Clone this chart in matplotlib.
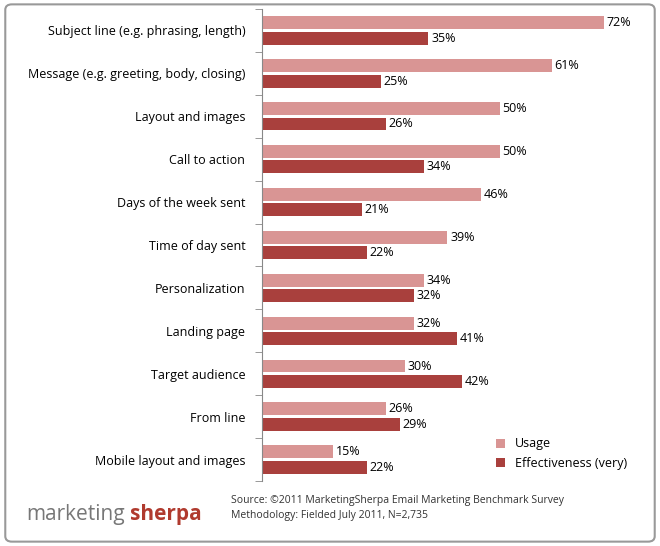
import matplotlib.pyplot as plt
from matplotlib.patches import FancyBboxPatch

categories = ["Subject line (e.g. phrasing, length)",
              "Message (e.g. greeting, body, closing)",
              "Layout and images", "Call to action",
              "Days of the week sent", "Time of day sent",
              "Personalization", "Landing page", "Target audience",
              "From line", "Mobile layout and images"]
usage = [72, 61, 50, 50, 46, 39, 34, 32, 30, 26, 15]
effectiveness = [35, 25, 26, 34, 21, 22, 32, 41, 42, 29, 22]

c_use = "#D99594"
c_eff = "#A9403D"
plt.rcParams['font.family'] = ['Open Sans', 'DejaVu Sans']

fig = plt.figure(figsize=(6.6, 5.46), dpi=100)
fig.patches.append(FancyBboxPatch((0.008, 0.008), 0.984, 0.984,
                                  boxstyle="round,pad=0,rounding_size=0.01",
                                  transform=fig.transFigure, fill=False,
                                  edgecolor="#999999", linewidth=1.5))
ax = fig.add_axes([262 / 660, 1 - 481 / 546, 380 / 660, 472 / 546])

n = len(categories)
ys = list(range(n))
h = 0.3
ax.barh([y - h / 2 - 0.03 for y in ys], usage, height=h, color=c_use, label="Usage")
ax.barh([y + h / 2 + 0.03 for y in ys], effectiveness, height=h, color=c_eff,
        label="Effectiveness (very)")
for y, u, e in zip(ys, usage, effectiveness):
    ax.text(u + 0.6, y - h / 2 - 0.03, f"{u}%", va="center", fontsize=9)
    ax.text(e + 0.6, y + h / 2 + 0.03, f"{e}%", va="center", fontsize=9)

ax.set_ylim(n - 0.5, -0.5)
ax.set_xlim(0, 80)
ax.set_yticks(ys)
ax.set_yticklabels(categories, fontsize=9)
ax.set_yticks([y - 0.5 for y in range(n + 1)], minor=True)
ax.tick_params(axis="y", which="major", length=0, pad=12)
ax.tick_params(axis="y", which="minor", length=5, color="#888888")
ax.set_xticks([])
for s in ["top", "right", "bottom"]:
    ax.spines[s].set_visible(False)
ax.spines["left"].set_color("#888888")
ax.legend(loc="lower right", bbox_to_anchor=(0.99, 0.0), frameon=False,
          fontsize=9, handlelength=0.7, handleheight=0.7)

fig.text(0.04, 0.058, "marketing", fontsize=15, color="#777777", va="center")
fig.text(0.197, 0.058, "sherpa", fontsize=15, color="#B03A2E",
         fontweight="bold", va="center")
fig.text(0.35, 0.083, "Source: ©2011 MarketingSherpa Email Marketing Benchmark Survey",
         fontsize=7.5, color="#333333", va="center")
fig.text(0.35, 0.055, "Methodology: Fielded July 2011, N=2,735",
         fontsize=7.5, color="#333333", va="center")

fig.savefig("out.png", dpi=100)
